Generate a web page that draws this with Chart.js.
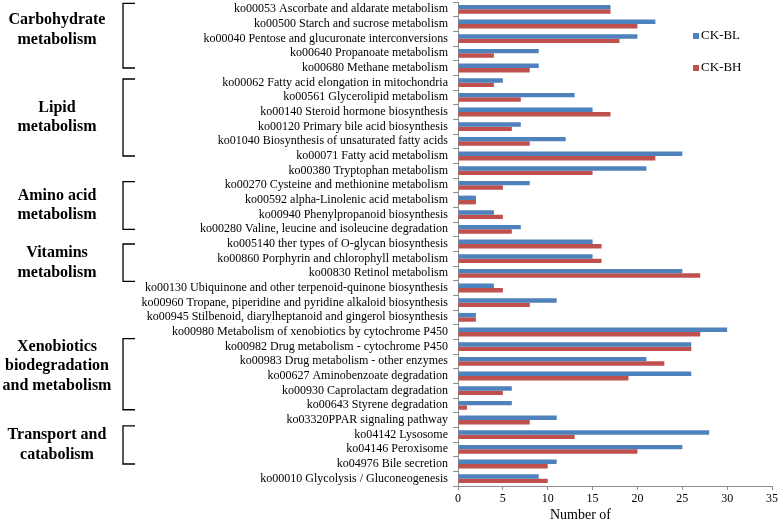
<!DOCTYPE html>
<html>
<head>
<meta charset="utf-8">
<script src="https://cdn.jsdelivr.net/npm/chart.js@4/dist/chart.umd.min.js"></script>
<style>
  body { margin: 0; background: #fff; }
  canvas { display: block; }
</style>
</head>
<body>
<canvas id="chart" width="778" height="523"></canvas>
<script>
const categories = [
  'ko00053 Ascorbate and aldarate metabolism',
  'ko00500 Starch and sucrose metabolism',
  'ko00040 Pentose and glucuronate interconversions',
  'ko00640 Propanoate metabolism',
  'ko00680 Methane metabolism',
  'ko00062 Fatty acid elongation in mitochondria',
  'ko00561 Glycerolipid metabolism',
  'ko00140 Steroid hormone biosynthesis',
  'ko00120 Primary bile acid biosynthesis',
  'ko01040 Biosynthesis of unsaturated fatty acids',
  'ko00071 Fatty acid metabolism',
  'ko00380 Tryptophan metabolism',
  'ko00270 Cysteine and methionine metabolism',
  'ko00592 alpha-Linolenic acid metabolism',
  'ko00940 Phenylpropanoid biosynthesis',
  'ko00280 Valine, leucine and isoleucine degradation',
  'ko005140 ther types of O-glycan biosynthesis',
  'ko00860 Porphyrin and chlorophyll metabolism',
  'ko00830 Retinol metabolism',
  'ko00130 Ubiquinone and other terpenoid-quinone biosynthesis',
  'ko00960 Tropane, piperidine and pyridine alkaloid biosynthesis',
  'ko00945 Stilbenoid, diarylheptanoid and gingerol biosynthesis',
  'ko00980 Metabolism of xenobiotics by cytochrome P450',
  'ko00982 Drug metabolism - cytochrome P450',
  'ko00983 Drug metabolism - other enzymes',
  'ko00627 Aminobenzoate degradation',
  'ko00930 Caprolactam degradation',
  'ko00643 Styrene degradation',
  'ko03320PPAR signaling pathway',
  'ko04142 Lysosome',
  'ko04146 Peroxisome',
  'ko04976 Bile secretion',
  'ko00010 Glycolysis / Gluconeogenesis'
];

const ckBL = [17, 22, 20, 9, 9, 5, 13, 15, 7, 12, 25, 21, 8, 2, 4, 7, 15, 15, 25, 4, 11, 2, 30, 26, 21, 26, 6, 6, 11, 28, 25, 11, 9];
const ckBH = [17, 20, 18, 4, 8, 4, 7, 17, 6, 8, 22, 15, 5, 2, 5, 6, 16, 16, 27, 5, 8, 2, 27, 26, 23, 19, 5, 1, 8, 13, 20, 10, 10];

const seriesNames = ['CK-BL', 'CK-BH'];
const xTickValues = [0, 5, 10, 15, 20, 25, 30, 35];

// pathway groups: label lines, first and last category index
const groupNames = [
  ['Carbohydrate', 'metabolism'],
  ['Lipid', 'metabolism'],
  ['Amino acid', 'metabolism'],
  ['Vitamins', 'metabolism'],
  ['Xenobiotics', 'biodegradation', 'and metabolism'],
  ['Transport and', 'catabolism']
];
const groupFirst = [0, 5, 12, 16, 22, 28];
const groupLast = [4, 10, 15, 18, 27, 31];

const BLUE = '#4f81bd';
const RED = '#c0504d';
const AXIS = '#8c8c8c';
const FONT = '"Liberation Serif", "Times New Roman", serif';

// bracket ends (in category units) and label nudges, tuned to the picture
const bracketTop = [-0.4, -0.25, -0.25, 0, 0.45, 0.4];
const bracketBottom = [0, 0, 0, 0.55, 0.3, 0];
const textNudge = [-6, 0, 0, 0, -8, 0];

const decorations = {
  id: 'decorations',
  afterDraw(chart) {
    const ctx = chart.ctx;
    const y = chart.scales.y;
    const area = chart.chartArea;
    ctx.save();

    // group brackets and labels
    ctx.strokeStyle = '#000';
    ctx.lineWidth = 1.3;
    ctx.fillStyle = '#000';
    ctx.font = 'bold 16px ' + FONT;
    ctx.textAlign = 'center';
    ctx.textBaseline = 'middle';
    groupNames.forEach((lines, i) => {
      const top = y.getPixelForValue(groupFirst[i] + bracketTop[i]);
      const bottom = y.getPixelForValue(groupLast[i] + bracketBottom[i]);
      ctx.beginPath();
      ctx.moveTo(135, top);
      ctx.lineTo(123, top);
      ctx.lineTo(123, bottom);
      ctx.lineTo(135, bottom);
      ctx.stroke();
      const mid = (top + bottom) / 2 + textNudge[i];
      const lh = 19.5;
      lines.forEach((t, k) => {
        ctx.fillText(t, 57, mid + (k - (lines.length - 1) / 2) * lh);
      });
    });

    // legend
    ctx.font = '13px ' + FONT;
    ctx.textAlign = 'left';
    [BLUE, RED].forEach((c, i) => {
      const ly = 36 + i * 32;
      ctx.fillStyle = c;
      ctx.fillRect(693, ly - 3, 6, 6);
      ctx.fillStyle = '#000';
      ctx.fillText(seriesNames[i], 701, ly);
    });

    // x axis title
    ctx.font = '14px ' + FONT;
    ctx.textAlign = 'center';
    ctx.fillText('Number of', area.left + (area.right - area.left) * 0.39, 515);
    ctx.restore();
  }
};

new Chart(document.getElementById('chart'), {
  type: 'bar',
  plugins: [decorations],
  data: {
    labels: categories,
    datasets: [
      { label: seriesNames[0], data: ckBL, backgroundColor: BLUE },
      { label: seriesNames[1], data: ckBH, backgroundColor: RED }
    ]
  },
  options: {
    indexAxis: 'y',
    responsive: false,
    animation: false,
    devicePixelRatio: 1,
    layout: { padding: { top: 2, right: 0, left: 0, bottom: 0 } },
    datasets: {
      bar: { categoryPercentage: 0.6, barPercentage: 1.0 }
    },
    plugins: {
      legend: { display: false },
      tooltip: { enabled: false }
    },
    scales: {
      x: {
        min: 0,
        max: 35,
        afterBuildTicks: (s) => { s.ticks = xTickValues.map(v => ({ value: v })); },
        afterFit: (s) => { s.height = 37; s.paddingRight = 6; },
        grid: { drawOnChartArea: false, drawTicks: true, tickLength: 4, color: AXIS },
        border: { display: true, color: AXIS },
        ticks: { color: '#000', padding: 2, font: { family: FONT, size: 12 } }
      },
      y: {
        afterFit: (s) => { s.width = 458; s.paddingTop = 0; s.paddingBottom = 0; },
        grid: { drawOnChartArea: false, drawTicks: true, tickLength: 5, color: AXIS, offset: true },
        border: { display: true, color: AXIS },
        ticks: { color: '#000', padding: 5, autoSkip: false, font: { family: FONT, size: 12 } }
      }
    }
  }
});
</script>
</body>
</html>
